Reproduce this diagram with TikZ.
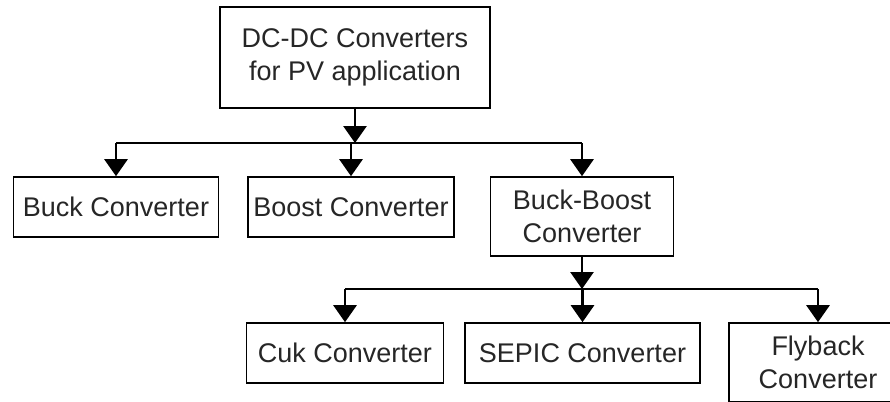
\documentclass[tikz,border=0pt]{standalone}
\usepackage{fontspec}
\setmainfont{Liberation Sans}
\usepackage{tikz}
\usetikzlibrary{arrows.meta,positioning,calc}
\tikzset{
  mybox/.style = {rectangle, draw, line width=1.6pt, fill=white, align=center, inner sep=0pt,
    text=black!85, font=\fontsize{27}{33}\selectfont},
  myline/.style = {line width=2.8pt},
  myarrow/.style = {-{Triangle[length=17pt,width=23pt]}, line width=2.8pt},
}

\begin{document}
\begin{tikzpicture}[x=1pt,y=-1pt]
\clip (0,0) rectangle (890,401);
\node (top) [mybox, minimum width=270pt, minimum height=101pt] at (355,57.5) {DC-DC Converters\\for PV application};
\node (buck) [mybox, minimum width=205pt, minimum height=60pt] at (116,207) {Buck Converter};
\node (boost) [mybox, minimum width=206pt, minimum height=60pt] at (351,207) {Boost Converter};
\node (bb) [mybox, minimum width=183pt, minimum height=79pt] at (582,216.5) {Buck-Boost\\Converter};
\node (cuk) [mybox, minimum width=197pt, minimum height=60pt] at (345,353) {Cuk Converter};
\node (sepic) [mybox, minimum width=235pt, minimum height=60pt] at (582.5,353) {SEPIC Converter};
\node (fly) [mybox, minimum width=178pt, minimum height=79pt] at (818,362.5) {Flyback\\Converter};

\coordinate (busA) at (355,143);
\coordinate (busB) at (582,289);

\draw[myarrow] (top.south) -- (top.south |- busA);
\draw[myline] (buck.north |- busA) -- (bb.north |- busA);
\foreach \v in {buck,boost,bb}{
  \draw[myarrow] (\v.north |- busA) -- (\v.north);
}

\draw[myarrow] (bb.south) -- (bb.south |- busB);
\draw[myline] (cuk.north |- busB) -- (fly.north |- busB);
\foreach \v in {cuk,sepic,fly}{
  \draw[myarrow] (\v.north |- busB) -- (\v.north);
}
\end{tikzpicture}
\end{document}
